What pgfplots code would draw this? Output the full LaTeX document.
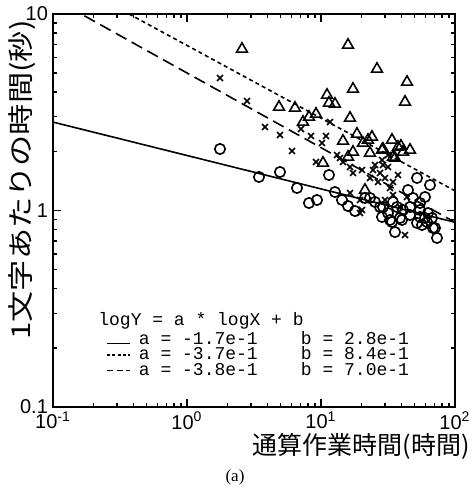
\documentclass[border=0pt]{standalone}
\usepackage{fontspec}
\setmainfont{Liberation Sans}
\setmonofont{Liberation Mono}
\newfontfamily\serif{Liberation Serif}
\newfontfamily\jp{Noto Sans CJK JP}
\usepackage{pgfplots}
\pgfplotsset{compat=1.18}

% open circles
\pgfplotstableread{
x y
1.763 2.056
3.446 1.481
4.943 1.570
6.622 1.302
8.137 1.092
9.335 1.131
11.47 1.516
12.72 1.242
14.35 1.131
15.91 1.054
17.94 0.994
21.30 1.158
23.21 1.158
25.29 1.105
27.56 1.042
31.62 0.971
32.73 0.895
35.67 0.777
38.88 0.916
40.93 1.006
46.17 1.042
44.61 1.271
48.61 1.158
54.83 1.092
59.74 1.171
65.10 1.348
52.07 1.464
54.83 0.927
61.83 0.874
67.38 0.916
70.93 0.815
73.41 0.725
52.07 0.864
46.17 0.949
36.93 1.042
28.53 0.927
34.46 1.105
29.03 1.042
33.88 0.874
40.23 0.895
56.74 0.844
59.74 0.916
68.54 0.815
62.90 0.971
54.83 1.006
}\circles

% crosses
\pgfplotstableread{
x y
1.763 4.724
2.804 3.608
3.821 2.660
4.943 2.423
6.075 2.008
7.090 2.599
8.422 2.394
10.17 2.204
10.90 2.394
11.67 2.821
9.180 1.766
13.16 1.916
14.60 1.766
16.46 1.665
17.33 1.552
20.23 1.607
24.44 1.607
27.56 1.552
29.03 1.704
31.62 1.665
37.56 1.516
26.63 1.396
34.46 1.396
16.46 1.228
19.54 1.131
20.23 1.006
30.04 1.131
34.46 1.199
38.88 1.042
43.85 1.171
42.37 0.750
19.54 0.971
13.86 1.850
25.29 1.704
30.04 1.464
23.21 1.464
32.73 1.302
28.53 1.807
31.62 1.916
}\crosses

% triangles
\pgfplotstableread{
x y
2.573 6.636
15.91 6.953
26.18 5.250
43.85 4.506
17.33 4.152
42.37 3.566
11.09 3.871
11.47 3.525
12.72 3.483
4.861 3.363
6.397 3.324
9.180 3.098
8.137 2.991
16.46 2.956
7.341 2.821
14.60 2.257
18.56 2.451
20.58 2.204
24.02 2.366
23.21 1.962
17.33 1.985
22.42 2.284
28.53 2.032
33.88 2.284
37.56 2.104
46.17 2.032
34.46 1.872
10.35 1.745
21.30 1.271
15.91 1.872
29.03 2.056
39.54 2.129
40.93 1.985
35.67 1.850
}\triangles

\begin{document}
\begin{tikzpicture}
\begin{axis}[
  name=ax,
  scale only axis,
  width=201pt, height=196.5pt,
  xmode=log, ymode=log,
  xmin=0.1, xmax=100, ymin=0.1, ymax=10,
  axis line style={line width=1pt},
  tick style={line width=0.7pt, black},
  major tick length=4pt, minor tick length=2pt,
  tick align=inside,
  xtick={0.1,1,10,100},
  xticklabels={10\textsuperscript{-1},10\textsuperscript{0},10\textsuperscript{1},10\textsuperscript{2}},
  minor xtick={0.2,0.3,0.4,0.5,0.6,0.7,0.8,0.9,2,3,4,5,6,7,8,9,20,30,40,50,60,70,80,90},
  ytick={0.1,1,10},
  yticklabels={0.1,1,10},
  minor ytick={0.2,0.3,0.4,0.5,0.6,0.7,0.8,0.9,2,3,4,5,6,7,8,9},
  ticklabel style={font=\fontsize{10}{10}\selectfont},
  xticklabel style={yshift=1pt},
  yticklabel style={xshift=1pt},
]
\addplot[only marks, mark=o, mark size=2.6pt, mark options={line width=0.8pt}] table {\circles};
\addplot[only marks, mark=x, mark size=2.1pt, mark options={line width=0.8pt}] table {\crosses};
\addplot[only marks, mark=triangle, mark size=3.1pt, mark options={line width=0.8pt}] table {\triangles};

% fitted lines logY = a logX + b
\addplot[line width=0.8pt] coordinates {(0.1,2.818) (100,0.871)};
\addplot[line width=0.8pt, dash pattern=on 2pt off 1.6pt] coordinates {(0.1,16.22) (100,1.259)};
\addplot[line width=0.8pt, dash pattern=on 6pt off 3pt] coordinates {(0.1,12.02) (100,0.871)};
\end{axis}

\node[anchor=north west, inner sep=0pt, align=left,
      font=\ttfamily\fontsize{9}{7.8}\selectfont]
  at ([xshift=22.5pt,yshift=47.5pt]ax.south west)
  {logY = a * logX + b\\
   \hspace{4pt}\tikz[baseline=0pt]\draw[line width=0.8pt] (0,0.3pt)--(11.5pt,0.3pt);\hspace{4pt}a = -1.7e-1~~~~b = 2.8e-1\\
   \hspace{4pt}\tikz[baseline=-2.5pt]\draw[line width=0.8pt, dash pattern=on 1.5pt off 1.1pt] (0,0)--(11.5pt,0);\hspace{4pt}a = -3.7e-1~~~~b = 8.4e-1\\
   \hspace{4pt}\tikz[baseline=-2.5pt]\draw[line width=0.8pt, dash pattern=on 3pt off 1.8pt] (0,0)--(11.5pt,0);\hspace{4pt}a = -3.8e-1~~~~b = 7.0e-1};

\node[font=\jp\fontsize{13}{13}\selectfont, rotate=90, anchor=east, inner sep=0pt]
  at ([xshift=-15.5pt,yshift=-3pt]ax.north west) {\scalebox{1.2}[1]{1文字あたりの時間(秒)}};
\node[font=\jp\fontsize{12.5}{12.5}\selectfont, anchor=east, inner sep=0pt]
  at ([xshift=7.5pt,yshift=-19.5pt]ax.south east) {通算作業時間(時間)};
\node[font=\serif\fontsize{8.5}{8.5}\selectfont, inner sep=0pt]
  at ([xshift=91pt,yshift=-35pt]ax.south west) {(a)};

\pgfresetboundingbox
\path[use as bounding box] ([xshift=-26.5pt,yshift=-41pt]ax.south west) rectangle ([xshift=9pt,yshift=7pt]ax.north east);
\end{tikzpicture}
\end{document}
